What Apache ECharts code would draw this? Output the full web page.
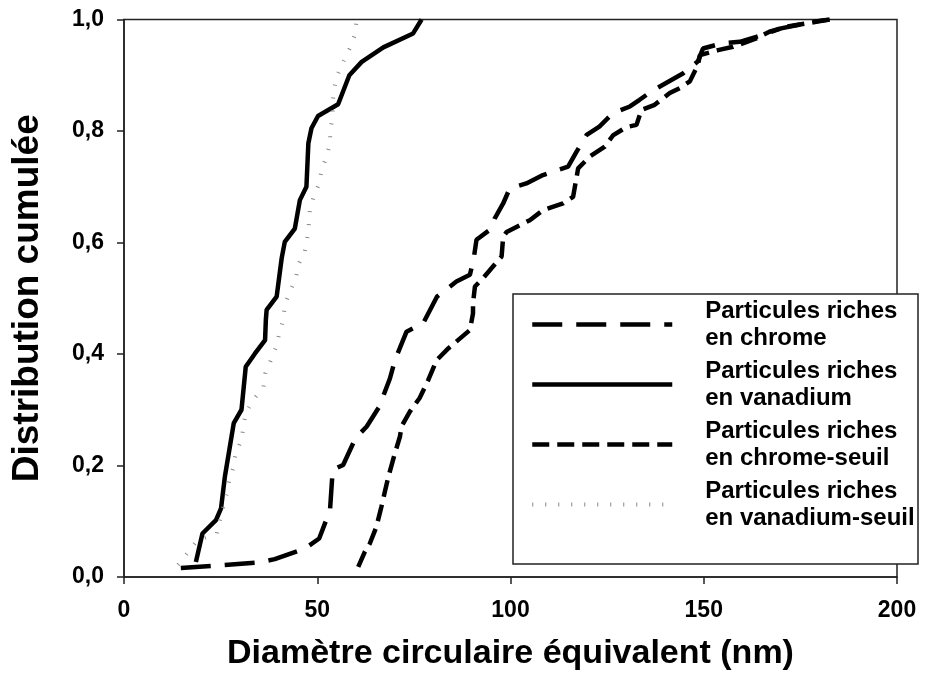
<!DOCTYPE html>
<html>
<head>
<meta charset="utf-8">
<script src="https://cdn.jsdelivr.net/npm/echarts@6/dist/echarts.min.js"></script>
<style>
  html, body { margin: 0; padding: 0; background: #fff; }
  #chart { width: 925px; height: 688px; }
</style>
</head>
<body>
<div id="chart"></div>
<script>
// tick labels
var xTicks = [0, 50, 100, 150, 200];
var yTicks = [0, 0.2, 0.4, 0.6, 0.8, 1.0];

// Particules riches en chrome (tirets longs)
var chromeX = [14.7, 22.7, 34.7, 39.0, 46.8, 50.5, 53.3, 54.0, 56.7, 59.9, 62.8, 66.0, 68.8, 70.1, 73.1, 77.4, 81.0, 86.0, 89.5, 90.5, 91.2, 95.1, 95.9, 98.1, 99.8, 104.1, 108.4, 114.9, 117.1, 119.7, 123.0, 126.5, 130.9, 133.4, 136.9, 144.6, 148.5, 149.8, 154.6, 159.3, 163.6, 170.0, 178.3, 182.6];
var chromeY = [0.016, 0.020, 0.026, 0.032, 0.051, 0.069, 0.120, 0.192, 0.201, 0.249, 0.270, 0.305, 0.356, 0.389, 0.440, 0.455, 0.503, 0.530, 0.542, 0.572, 0.605, 0.625, 0.643, 0.670, 0.697, 0.706, 0.721, 0.736, 0.763, 0.793, 0.808, 0.832, 0.844, 0.856, 0.873, 0.903, 0.925, 0.948, 0.957, 0.960, 0.969, 0.984, 0.996, 1.0];

// Particules riches en vanadium (trait plein)
var vanadiumX = [18.6, 20.3, 23.8, 25.1, 26.1, 28.4, 30.4, 31.5, 33.9, 36.5, 36.7, 36.9, 39.5, 40.8, 41.6, 44.2, 45.5, 47.2, 47.7, 48.5, 50.2, 55.4, 58.3, 61.5, 67.1, 74.8, 77.0];
var vanadiumY = [0.027, 0.078, 0.102, 0.123, 0.180, 0.276, 0.300, 0.377, 0.401, 0.425, 0.461, 0.479, 0.503, 0.572, 0.601, 0.625, 0.676, 0.700, 0.778, 0.805, 0.827, 0.848, 0.900, 0.924, 0.950, 0.975, 1.0];

// Particules riches en chrome-seuil (tirets courts)
var chromeSeuilX = [60.6, 62.3, 63.6, 65.3, 66.6, 68.4, 70.1, 71.4, 71.8, 74.0, 76.5, 78.7, 80.9, 83.9, 89.5, 90.3, 90.3, 90.8, 92.9, 97.7, 98.1, 99.0, 105.0, 108.4, 113.6, 116.2, 117.5, 120.5, 124.4, 126.5, 130.0, 132.6, 133.9, 137.3, 141.2, 143.8, 146.4, 148.5, 149.0, 153.7, 157.6, 163.6, 167.0, 171.4, 179.1, 182.6];
var chromeSeuilY = [0.018, 0.045, 0.060, 0.090, 0.126, 0.180, 0.222, 0.252, 0.270, 0.297, 0.321, 0.353, 0.389, 0.410, 0.443, 0.473, 0.491, 0.521, 0.536, 0.575, 0.610, 0.619, 0.640, 0.658, 0.670, 0.682, 0.733, 0.754, 0.772, 0.792, 0.807, 0.811, 0.838, 0.847, 0.868, 0.877, 0.889, 0.919, 0.936, 0.945, 0.951, 0.966, 0.978, 0.987, 0.996, 1.0];

// Particules riches en vanadium-seuil (pointillé gris)
var vanadiumSeuilX = [14.0, 19.0, 24.0, 24.8, 25.7, 26.6, 27.2, 28.3, 28.9, 30.4, 30.9, 31.5, 33.4, 36.1, 36.6, 38.2, 39.5, 40.2, 41.2, 41.6, 42.9, 44.5, 45.1, 46.8, 47.4, 47.8, 48.1, 49.0, 50.5, 51.1, 52.4, 53.3, 53.4, 54.0, 54.0, 54.3, 55.2, 56.7, 58.4, 59.7, 60.2];
var vanadiumSeuilY = [0.022, 0.066, 0.078, 0.102, 0.126, 0.150, 0.172, 0.197, 0.222, 0.246, 0.270, 0.294, 0.317, 0.341, 0.366, 0.392, 0.416, 0.438, 0.461, 0.488, 0.512, 0.536, 0.560, 0.585, 0.607, 0.631, 0.658, 0.681, 0.706, 0.730, 0.754, 0.778, 0.802, 0.826, 0.850, 0.874, 0.900, 0.924, 0.948, 0.972, 1.0];

var names = [
    'Particules riches\nen chrome',
    'Particules riches\nen vanadium',
    'Particules riches\nen chrome-seuil',
    'Particules riches\nen vanadium-seuil'
];

function pairs(xs, ys) {
    return xs.map(function (x, i) { return [x, ys[i]]; });
}

var font = "'Liberation Sans', Arial, sans-serif";
var axisColor = '#222';
var styles = [
    { color: '#000', width: 4.5, type: [30, 14], cap: 'butt' },
    { color: '#000', width: 4.5, type: 'solid' },
    { color: '#000', width: 4.5, type: [17, 8], cap: 'butt' },
    { color: '#888', width: 4, type: [1, 12], cap: 'butt' }
];
var dataSets = [
    pairs(chromeX, chromeY),
    pairs(vanadiumX, vanadiumY),
    pairs(chromeSeuilX, chromeSeuilY),
    pairs(vanadiumSeuilX, vanadiumSeuilY)
];

var myChart = echarts.init(document.getElementById('chart'));
var option = {
    animation: false,
    backgroundColor: '#fff',
    grid: {
        left: 124,
        right: 28,
        top: 19.5,
        bottom: 111,
        show: true,
        borderColor: axisColor,
        borderWidth: 1.5
    },
    xAxis: {
        type: 'value',
        min: xTicks[0],
        max: xTicks[xTicks.length - 1],
        interval: 50,
        name: 'Diamètre circulaire équivalent (nm)',
        nameLocation: 'middle',
        nameGap: 60,
        nameTextStyle: { fontFamily: font, fontWeight: 'bold', fontSize: 34, color: '#000' },
        axisLine: { lineStyle: { color: axisColor, width: 1.5 } },
        axisTick: { inside: false, length: 7, lineStyle: { color: axisColor, width: 1.5 } },
        axisLabel: { margin: 22, fontFamily: font, fontWeight: 'bold', fontSize: 23, color: '#000' },
        splitLine: { show: false }
    },
    yAxis: {
        type: 'value',
        min: yTicks[0],
        max: yTicks[yTicks.length - 1],
        interval: 0.2,
        name: 'Distribution cumulée',
        nameLocation: 'middle',
        nameGap: 78,
        nameTextStyle: { fontFamily: font, fontWeight: 'bold', fontSize: 37, color: '#000' },
        axisLine: { lineStyle: { color: axisColor, width: 1.5 } },
        axisTick: { inside: false, length: 7, lineStyle: { color: axisColor, width: 1.5 } },
        axisLabel: {
            margin: 20, fontFamily: font, fontWeight: 'bold', fontSize: 23, color: '#000',
            formatter: function (v) { return v.toFixed(1).replace('.', ','); }
        },
        splitLine: { show: false }
    },
    legend: {
        orient: 'vertical',
        left: 530,
        top: 284,
        padding: 0,
        itemWidth: 140,
        itemHeight: 14,
        itemGap: -21,
        itemStyle: { opacity: 0 },
        data: names.map(function (n, i) {
            return { name: n, lineStyle: { width: styles[i].width, type: styles[i].type, color: styles[i].color } };
        }),
        textStyle: {
            fontFamily: font, fontWeight: 'bold', fontSize: 24, color: '#000',
            lineHeight: 27, padding: [27, 0, 0, 28]
        },
        z: 5
    },
    graphic: [{
        type: 'rect',
        z: 4,
        shape: { x: 513, y: 294, width: 405, height: 270 },
        style: { fill: '#fff', stroke: axisColor, lineWidth: 1.5 }
    }],
    series: names.map(function (n, i) {
        return {
            name: n,
            type: 'line',
            symbol: 'none',
            z: 3,
            data: dataSets[i],
            itemStyle: { color: styles[i].color },
            lineStyle: styles[i]
        };
    })
};
myChart.setOption(option);
</script>
</body>
</html>
